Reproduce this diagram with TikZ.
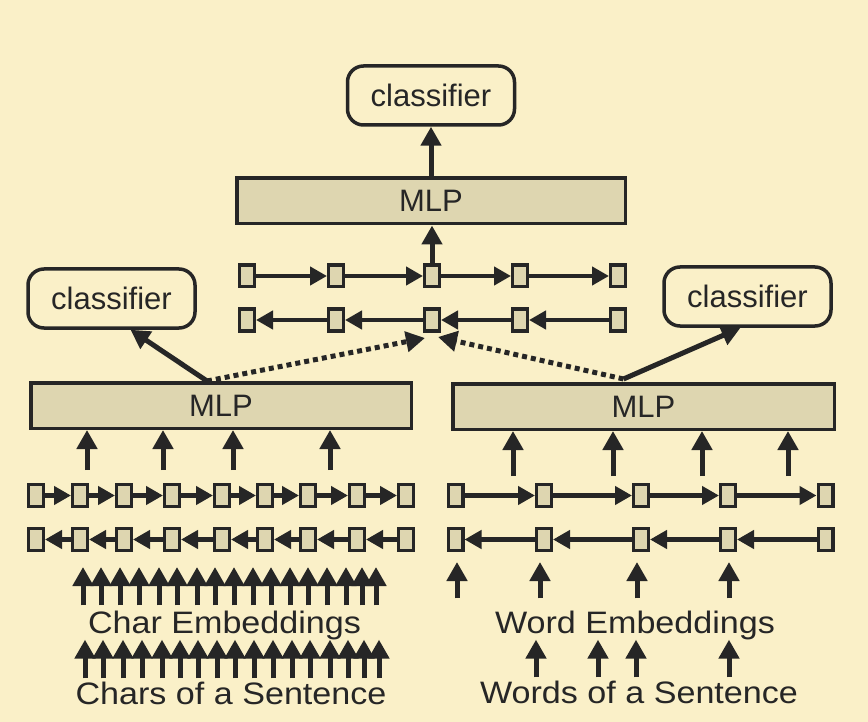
\documentclass[tikz,border=0pt]{standalone}
\usepackage{fontspec}
\setmainfont{Liberation Sans}
\newfontfamily\widefont[FakeStretch=1.1]{Liberation Sans}
\usepackage{tikz}
\usetikzlibrary{arrows.meta, calc, positioning}
\definecolor{paper}{RGB}{250,240,200}
\definecolor{boxfill}{RGB}{222,214,176}
\definecolor{ink}{RGB}{38,38,38}
\tikzstyle{classifier} = [rectangle, rounded corners=16pt, line width=3.5pt, draw=ink, fill=paper, text=ink, minimum width=167pt, minimum height=59pt, font=\fontsize{31}{36}\selectfont]
\tikzstyle{mlp} = [rectangle, line width=3.5pt, draw=ink, fill=boxfill, text=ink, minimum height=45.5pt, font=\fontsize{31}{36}\selectfont]
\tikzstyle{cell} = [rectangle, line width=3.4pt, draw=ink, fill=boxfill, minimum width=14.6pt, minimum height=21.6pt, inner sep=0pt]
\tikzstyle{caption} = [text=ink, anchor=base, inner sep=0pt, font=\widefont\fontsize{31}{36}\selectfont]
\tikzstyle{arrow} = [line width=4.6pt, draw=ink, -{Triangle[length=17pt, width=18pt]}]
\tikzstyle{thickarrow} = [line width=5pt, draw=ink, -{Triangle[length=19pt, width=20pt]}]
\tikzstyle{dottedarrow} = [thickarrow, dash pattern=on 5pt off 4pt]

\begin{document}
\begin{tikzpicture}[x=1pt, y=-1pt]
		\fill [paper] (0,0) rectangle (868,722);
		\useasboundingbox (0,0) rectangle (868,722);

		\node (TopClassifier) [classifier] at (431,95.5) {classifier};
		\node (TopMLP) [mlp, minimum width=388.5pt] at (431,201) {MLP};
		\node (CharClassifier) [classifier] at (111.5,298.5) {classifier};
		\node (CharMLP) [mlp, minimum width=380.5pt] at (221,405.5) {MLP};
		\node (WordClassifier) [classifier] at (747.5,296.5) {classifier};
		\node (WordMLP) [mlp, minimum width=381.5pt] at (643.5,406.5) {MLP};

		\node (CharEmb) [caption] at (224.5,633) {Char Embeddings};
		\node (CharSentence) [caption] at (231,704) {Chars of a Sentence};
		\node (WordEmb) [caption] at (635,633) {Word Embeddings};
		\node (WordSentence) [caption] at (639,703) {Words of a Sentence};

		% bi-directional rows
		\foreach \x [count=\i] in {247,336,432,520,618} {
			\node (TopFwd\i) [cell] at (\x,276) {};
			\node (TopBwd\i) [cell] at (\x,320) {};
		}
		\foreach \x [count=\i] in {36,80,124,172,222,265,308,357,406} {
			\node (CharFwd\i) [cell] at (\x,495.5) {};
			\node (CharBwd\i) [cell] at (\x,539.5) {};
		}
		\foreach \x [count=\i] in {455.5,544,641,728,825.5} {
			\node (WordFwd\i) [cell] at (\x,495.5) {};
			\node (WordBwd\i) [cell] at (\x,539.5) {};
		}
		\foreach \i/\j in {1/2,2/3,3/4,4/5} {
			\draw [arrow] (TopFwd\i) -- (TopFwd\j);
			\draw [arrow] (TopBwd\j) -- (TopBwd\i);
			\draw [arrow] (WordFwd\i) -- (WordFwd\j);
			\draw [arrow] (WordBwd\j) -- (WordBwd\i);
		}
		\foreach \i/\j in {1/2,2/3,3/4,4/5,5/6,6/7,7/8,8/9} {
			\draw [arrow] (CharFwd\i) -- (CharFwd\j);
			\draw [arrow] (CharBwd\j) -- (CharBwd\i);
		}

		% into the MLPs
		\draw [thickarrow] (TopFwd3) -- (TopFwd3 |- TopMLP.south);
		\draw [thickarrow] (TopMLP) -- (TopClassifier);
		\foreach \x [count=\i] in {87,163,233,330} {
			\coordinate (CharIn\i) at (\x,470);
			\draw [thickarrow] (CharIn\i) -- (CharIn\i |- CharMLP.south);
		}
		\foreach \x [count=\i] in {513,613,702,788} {
			\coordinate (WordIn\i) at (\x,476);
			\draw [thickarrow] (WordIn\i) -- (WordIn\i |- WordMLP.south);
		}

		% outputs
		\coordinate (CharOut) at ($(CharMLP.north)+(-14,0)$);
		\coordinate (WordOut) at ($(WordMLP.north)+(-20,-3)$);
		\draw [thickarrow] (CharOut) -- ($(CharClassifier.south)+(19,0)$);
		\draw [thickarrow] (WordOut) -- ($(WordClassifier.south)+(-7,0)$);
		\draw [dottedarrow] (CharOut) -- ($(TopBwd3.south west)+(2,5.5)$);
		\draw [dottedarrow] (WordOut) -- ($(TopBwd3.south east)+(-3,4.5)$);

		% embeddings
		\foreach \x in {83,101,120,139,159,177,197,215,234,253,271,290,308,327,346,362,376}
			\draw [thickarrow, shorten <=5pt, shorten >=15pt] (\x,0 |- CharEmb.north) -- (\x,0 |- CharBwd1.south);
		\foreach \x in {85,103,123,142,162,180,198,217,235,254,273,292,310,330,348,364,379}
			\draw [thickarrow, shorten <=3pt] (\x,0 |- CharSentence.north) -- (\x,0 |- CharEmb.south);
		\foreach \x in {457,540,637,729}
			\draw [thickarrow, shorten <=12pt, shorten >=10pt] (\x,0 |- WordEmb.north) -- (\x,0 |- WordBwd1.south);
		\foreach \x in {536,598,636,729}
			\draw [thickarrow, shorten <=3pt] (\x,0 |- WordSentence.north) -- (\x,0 |- WordEmb.south);
\end{tikzpicture}
\end{document}
